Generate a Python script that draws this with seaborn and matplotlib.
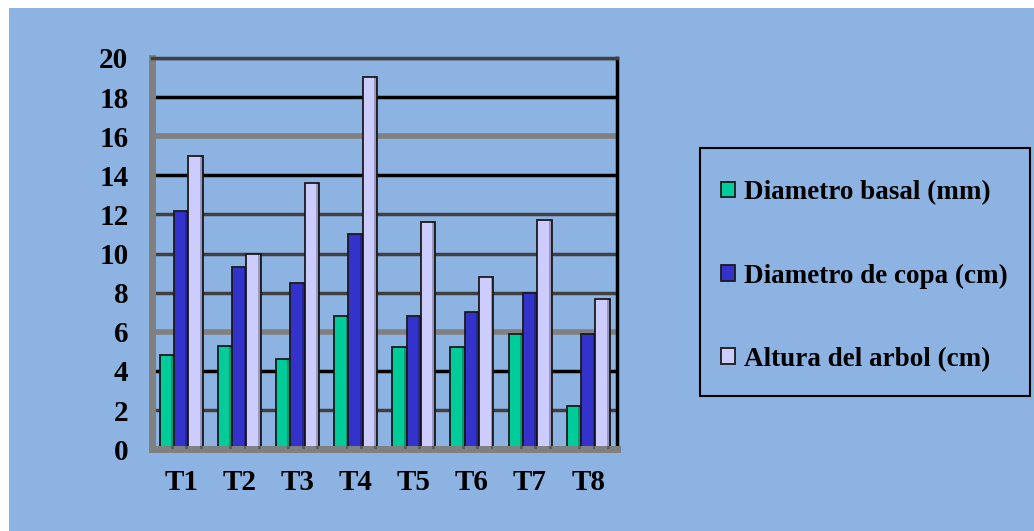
import pandas as pd
import matplotlib.pyplot as plt
import seaborn as sns
from matplotlib.patches import Rectangle

tratamientos = ["T1", "T2", "T3", "T4", "T5", "T6", "T7", "T8"]
diametro_basal = [4.8, 5.3, 4.6, 6.8, 5.2, 5.2, 5.9, 2.2]
diametro_copa = [12.2, 9.3, 8.5, 11.0, 6.8, 7.0, 8.0, 5.9]
altura_arbol = [15.0, 10.0, 13.6, 19.0, 11.6, 8.8, 11.7, 7.7]
series = ["Diametro basal (mm)", "Diametro de copa (cm)", "Altura del arbol (cm)"]
colores = ["#00CC99", "#3333CC", "#CCCCFF"]

df = pd.DataFrame({"T": tratamientos, series[0]: diametro_basal,
                   series[1]: diametro_copa, series[2]: altura_arbol})
df = df.melt(id_vars="T", var_name="serie", value_name="valor")

sns.set_style("white")
plt.rcParams["font.family"] = ["Liberation Serif", "DejaVu Serif"]
plt.rcParams["font.weight"] = "bold"
plt.rcParams["text.color"] = "black"
plt.rcParams["xtick.labelcolor"] = "black"
plt.rcParams["ytick.labelcolor"] = "black"

W, H = 1034, 531
bg = "#8DB3E2"
fig = plt.figure(figsize=(W / 100, H / 100), dpi=100, facecolor="white")
fig.patches.append(Rectangle((9 / W, 0), 1, 1 - 8 / H, transform=fig.transFigure,
                             facecolor=bg, edgecolor="none", zorder=-10))
ax = fig.add_axes([0.147, 0.154, 0.45, 0.737])
ax.set_facecolor(bg)

# gridlines with alternating colours like the original
grid_cols = {2: "#404040", 4: "black", 6: "#808080", 8: "#404040", 10: "#404040",
             12: "#404040", 14: "black", 16: "#808080", 18: "black", 20: "#404040"}
for yv, c in grid_cols.items():
    ax.axhline(yv, color=c, lw=4 if c == "#808080" else 2.5, zorder=0)

sns.barplot(data=df, x="T", y="valor", hue="serie", palette=colores, ax=ax,
            width=0.74, edgecolor="#1a1a1a", linewidth=1.3, saturation=1, zorder=2)

# darker side face to hint the 3D look of the original bars
for bar in list(ax.patches):
    x, w, h = bar.get_x(), bar.get_width(), bar.get_height()
    ax.add_patch(Rectangle((x + w * 0.8, 0), w * 0.2, h, facecolor="black",
                           alpha=0.25, edgecolor="none", zorder=3))

ax.set_ylim(0, 20)
ax.set_yticks(range(0, 21, 2))
ax.set_xlim(-0.5, 7.5)
ax.set_xlabel("")
ax.set_ylabel("")
ax.tick_params(axis="both", labelsize=21, length=7, width=2, color="black")
ax.tick_params(axis="x", pad=14)
ax.tick_params(axis="y", pad=10)
for lab in ax.get_xticklabels() + ax.get_yticklabels():
    lab.set_fontweight("bold")
ax.set_xticks([i - 0.5 for i in range(9)], minor=True)
ax.tick_params(axis="x", which="major", length=0)
ax.tick_params(axis="x", which="minor", length=8, width=2)

ax.spines["left"].set_color("#808080")
ax.spines["left"].set_linewidth(5)
ax.spines["bottom"].set_color("#808080")
ax.spines["bottom"].set_linewidth(5)
ax.spines["right"].set_color("black")
ax.spines["right"].set_linewidth(2.5)
ax.spines["top"].set_color("#404040")
ax.spines["top"].set_linewidth(2.5)

# legend box drawn separately, legend itself frameless
fig.patches.append(Rectangle((700 / W, 1 - 396 / H), 330 / W, 248 / H,
                             transform=fig.transFigure, facecolor="none",
                             edgecolor="black", lw=1.5, zorder=5))
handles, labels = ax.get_legend_handles_labels()
ax.legend(handles[:3], labels[:3], loc="center left",
          bbox_to_anchor=(721 / W, 1 - 276 / H), bbox_transform=fig.transFigure,
          frameon=False, prop={"size": 19.5, "weight": "bold"}, labelspacing=2.15,
          handlelength=0.5, handleheight=0.5, handletextpad=0.35,
          borderpad=0, borderaxespad=0)

fig.savefig("out.png", dpi=100, facecolor=fig.get_facecolor())
